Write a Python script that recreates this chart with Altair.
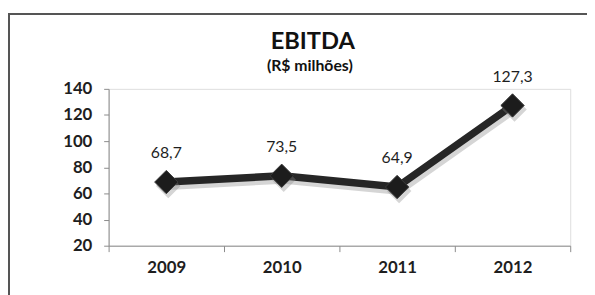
import altair as alt
import pandas as pd

years = ["2009", "2010", "2011", "2012"]
values = [68.7, 73.5, 64.9, 127.3]
labels = ["68,7", "73,5", "64,9", "127,3"]
y_ticks = [20, 40, 60, 80, 100, 120, 140]
title_text = ["EBITDA"]
subtitle_text = ["(R$ milhões)"]

df = pd.DataFrame({"ano": years, "valor": values, "rotulo": labels})

FONT = "Lato"

x_enc = alt.X("ano:N", sort=years, title=None,
              scale=alt.Scale(paddingInner=0, paddingOuter=0),
              axis=alt.Axis(tickBand="extent", labelAngle=0, tickSize=6,
                            labelPadding=8, labelFontSize=17, labelFontWeight="bold",
                            labelFont=FONT, labelColor="#1e1e1e",
                            domainColor="#8a8a8a", tickColor="#8a8a8a"))
y_enc = alt.Y("valor:Q", title=None,
              scale=alt.Scale(domain=[20, 140], nice=False, zero=False),
              axis=alt.Axis(values=y_ticks, grid=False, tickSize=5, labelPadding=12,
                            labelFontSize=17, labelFontWeight="bold", labelFont=FONT,
                            labelColor="#1e1e1e", domainColor="#8a8a8a",
                            tickColor="#8a8a8a"))

base = alt.Chart(df)

frame = base.mark_rect(fill=None, stroke="#555555", strokeWidth=2).encode(
    x=alt.value(-101), x2=alt.value(530), y=alt.value(-76), y2=alt.value(240)
)

title = alt.Chart(pd.DataFrame({"t": title_text})).mark_text(
    font=FONT, fontSize=24, fontWeight="bold", color="#111111",
    baseline="alphabetic", align="center").encode(
    text="t:N", x=alt.value(207), y=alt.value(-40))
subtitle = alt.Chart(pd.DataFrame({"t": subtitle_text})).mark_text(
    font=FONT, fontSize=16, fontWeight="bold", color="#111111",
    baseline="alphabetic", align="center").encode(
    text="t:N", x=alt.value(204), y=alt.value(-18))

shadow_line = base.mark_line(color="#888888", opacity=0.35, strokeWidth=8,
                             xOffset=2, yOffset=4).encode(x=x_enc, y=y_enc)
line = base.mark_line(color="#262626", strokeWidth=7.5).encode(x=x_enc, y=y_enc)
shadow_pts = base.mark_point(shape="diamond", filled=True, size=620, color="#888888",
                             opacity=0.35, xOffset=2, yOffset=4).encode(x=x_enc, y=y_enc)
pts = base.mark_point(shape="diamond", filled=True, size=560, color="#1c1c1c",
                      stroke="#3a3a3a", strokeWidth=1, opacity=1).encode(x=x_enc, y=y_enc)
text = base.mark_text(dy=-29, fontSize=16, font=FONT, color="#1e1e1e").encode(
    x=x_enc, y=y_enc, text="rotulo:N")

chart = alt.layer(frame, title, subtitle, shadow_line, line, shadow_pts, pts, text).properties(
    width=468, height=159,
    autosize=alt.AutoSizeParams(type="none"),
    padding={"left": 102, "top": 80, "right": 17, "bottom": 48},
).configure_view(stroke=None).configure(background="white")

chart.save("out.html", embed_options={"renderer": "svg", "actions": False})
